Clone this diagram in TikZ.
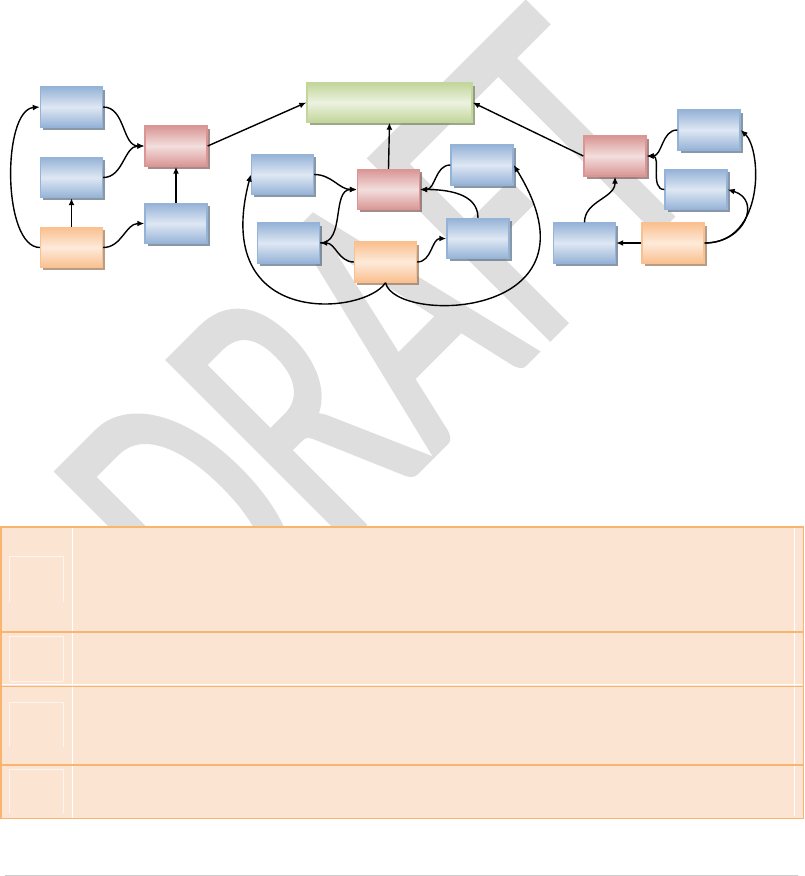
\documentclass[tikz,border=0pt]{standalone}
\usepackage{fontspec}
\usepackage{xcolor}
\usepackage{tikz}
\usetikzlibrary{
	arrows.meta,
	shadows,
	positioning
}
\newfontfamily\wmfont[FakeBold=1.5]{Carlito}
\definecolor{BlueEdge}{RGB}{149,179,215}
\definecolor{BlueLight}{RGB}{222,231,243}
\definecolor{RedEdge}{RGB}{217,150,148}
\definecolor{RedLight}{RGB}{242,222,221}
\definecolor{GreenEdge}{RGB}{195,214,155}
\definecolor{GreenLight}{RGB}{236,242,224}
\definecolor{OrangeEdge}{RGB}{250,192,143}
\definecolor{OrangeLight}{RGB}{253,234,218}
\definecolor{TabFill}{RGB}{252,228,211}
\definecolor{TabLine}{RGB}{249,180,112}

\begin{document}
\begin{tikzpicture}[x=1pt, y=-1pt,
		box/.style={line width=1.4pt, minimum width=62pt, minimum height=40pt, inner sep=0pt,
			shading angle=-45},
		bluebox/.style={box, draw=BlueEdge, top color=BlueEdge, bottom color=BlueEdge, middle color=BlueLight,
			drop shadow={shadow xshift=2.5pt, shadow yshift=-2.5pt, fill=BlueEdge!60!black, opacity=0.7}},
		redbox/.style={box, draw=RedEdge, top color=RedEdge, bottom color=RedEdge, middle color=RedLight,
			drop shadow={shadow xshift=2.5pt, shadow yshift=-2.5pt, fill=RedEdge!60!black, opacity=0.7}},
		greenbox/.style={box, draw=GreenEdge, top color=GreenEdge, bottom color=GreenEdge, middle color=GreenLight,
			drop shadow={shadow xshift=2.5pt, shadow yshift=-2.5pt, fill=GreenEdge!60!black, opacity=0.7}},
		orangebox/.style={box, draw=OrangeEdge, top color=OrangeEdge, bottom color=OrangeEdge, middle color=OrangeLight,
			drop shadow={shadow xshift=2.5pt, shadow yshift=-2.5pt, fill=OrangeEdge!60!black, opacity=0.7}},
		link/.style={line width=1.4pt, -{Latex[length=7pt, width=6pt]}},
		tabrule/.style={TabLine, line width=2pt}
	]
	\useasboundingbox (0,0) rectangle (804,876);

	% watermark
	\begin{scope}[shift={(224,664)}, rotate=45, yscale=1.55]
		\node[transform shape, anchor=base west, inner sep=0pt, text=black!13,
			font=\wmfont\fontsize{255}{255}\selectfont] (wm) at (0,0) {DRAFT};
	\end{scope}

	% left group
	\node[bluebox] (l1) at (71.5,107) {};
	\node[bluebox] (l2) at (71.5,177.5) {};
	\node[orangebox] (l3) at (71.5,247.5) {};
	\node[redbox] (l4) at (176,146) {};
	\node[bluebox] (l5) at (176,223.5) {};

	% goal
	\node[greenbox, minimum width=165pt, minimum height=39pt] (goal) at (389.5,102.5) {};

	% middle group
	\node[bluebox] (m1) at (282.5,174.5) {};
	\node[redbox] (m2) at (388.5,189.5) {};
	\node[bluebox] (m3) at (482,165) {};
	\node[bluebox] (m4) at (288.5,243) {};
	\node[orangebox] (m5) at (385.5,262) {};
	\node[bluebox] (m6) at (478,238.5) {};

	% right group
	\node[redbox] (r1) at (615,156) {};
	\node[bluebox] (r2) at (709,130) {};
	\node[bluebox] (r3) at (696,189.5) {};
	\node[bluebox] (r4) at (584.5,243) {};
	\node[orangebox] (r5) at (673,243) {};

	\draw[link] (l1.east) to[out=0, in=180] (l4.west);
	\draw[link] (l2.east) to[out=0, in=180] (l4.west);
	\draw[link] (l3.north) -- (l2.south);
	\draw[link] (l3.east) to[out=0, in=180] (l5.west);
	\draw[link] (l5.north) -- (l4.south);
	\draw[link] (l3.west) .. controls (2,247) and (2,110) .. (l1.west);
	\draw[link] (l4.east) -- (goal.west);

	\draw[link] (m2.north) -- (goal.south);
	\draw[link] (m1.east) to[out=0, in=180] (m2.west);
	\draw[link] (m4.east) to[out=0, in=180] (m2.west);
	\draw[link] (m5.west) to[out=180, in=0] (m4.east);
	\draw[link] (m5.east) to[out=0, in=180] (m6.west);
	\draw[link] (m6.north) to[out=90, in=0] (m2.east);
	\draw[link] (m3.west) to[out=180, in=0] (m2.east);
	\draw[link] (m5.south) .. controls (365,315) and (210,330) .. (m1.west);
	\draw[link] (m5.south) .. controls (395,325) and (610,320) .. (m3.east);

	\draw[link] (r1.west) -- (goal.east);
	\draw[link] (r2.west) to[out=180, in=0] (r1.east);
	\draw[link] (r3.west) to[out=180, in=0] (r1.east);
	\draw[link] (r4.north) to[out=90, in=-90] (r1.south);
	\draw[link] (r5.west) -- (r4.east);
	\draw[link] (r5.east) .. controls (745,243) and (762,200) .. (r3.east);
	\draw[link] (r5.east) .. controls (765,243) and (762,150) .. (r2.east);

	% table
	\fill[TabFill] (0,526) rectangle (803,818);
	\draw[white, line width=1pt] (72,527) -- (72,818);
	\draw[white, line width=1pt] (794,528) -- (794,816);
	\draw[white, line width=1pt] (0,684.5) -- (803,684.5);
	\draw[TabLine, line width=0.6pt] (0,686) -- (803,686);
	\foreach \ytop/\ybot in {556/602, 636/681, 702/747, 769/813}
		\draw[white!60!TabFill, line width=0.8pt] (9.5,\ybot) -- (9.5,\ytop) -- (63,\ytop) -- (63,\ybot);
	\draw[white!60!TabFill, line width=0.8pt] (9.5,681) -- (63,681);
	\draw[tabrule] (0,527) -- (804,527);
	\draw[tabrule] (0,632) -- (804,632);
	\draw[tabrule] (0,765) -- (804,765);
	\draw[TabLine, line width=1pt] (0,818) -- (804,818);
	\draw[tabrule] (1,526) -- (1,818);
	\draw[TabLine, line width=1pt] (803,526) -- (803,818);

	\draw[black!20, line width=0.8pt] (5,875.5) -- (798,875.5);
\end{tikzpicture}
\end{document}
